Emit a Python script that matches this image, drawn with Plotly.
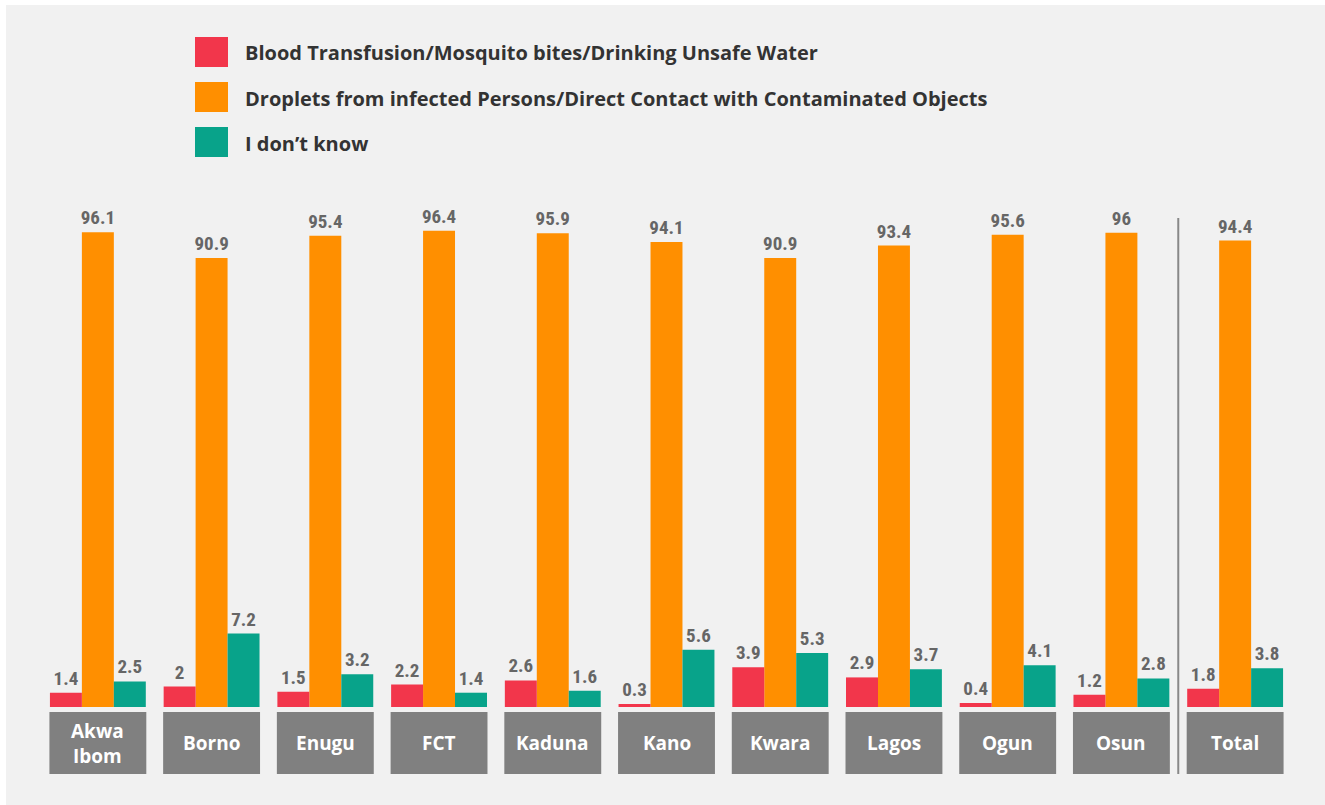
import plotly.graph_objects as go

states = ["Akwa Ibom", "Borno", "Enugu", "FCT", "Kaduna", "Kano", "Kwara", "Lagos", "Ogun", "Osun", "Total"]
state_labels = ["Akwa<br>Ibom", "Borno", "Enugu", "FCT", "Kaduna", "Kano", "Kwara", "Lagos", "Ogun", "Osun", "Total"]
series_names = [
    "Blood Transfusion/Mosquito bites/Drinking Unsafe Water",
    "Droplets from infected Persons/Direct Contact with Contaminated Objects",
    "I don\u2019t know",
]
blood = [1.4, 2, 1.5, 2.2, 2.6, 0.3, 3.9, 2.9, 0.4, 1.2, 1.8]
droplets = [96.1, 90.9, 95.4, 96.4, 95.9, 94.1, 90.9, 93.4, 95.6, 96, 94.4]
dont_know = [2.5, 7.2, 3.2, 1.4, 1.6, 5.6, 5.3, 3.7, 4.1, 2.8, 3.8]

colors = ["#f2364b", "#ff8f00", "#08a38a"]

W, H = 1325, 805
ML, MR, MT, MB = 41, 33, 207, 98
PW = W - ML - MR
PH = H - MT - MB


def px(xp):
    return (xp - ML) / PW


def py(yp):
    return (H - MB - yp) / PH


xs = list(range(len(states)))
bw = 0.281
label_font = dict(family="Roboto Condensed, Open Sans Condensed, DejaVu Sans Condensed, Liberation Sans Narrow, Roboto, sans-serif",
                  size=19, color="#666666", weight="bold")

fig = go.Figure()
specs = [(blood, "y2", -1.5 * bw), (droplets, "y", -0.5 * bw), (dont_know, "y2", 0.5 * bw)]
for i, (vals, yax, off) in enumerate(specs):
    fig.add_trace(go.Bar(
        x=xs, y=vals, name=series_names[i], yaxis=yax,
        width=bw, offset=off, marker=dict(color=colors[i], line=dict(width=0)),
        text=[("%g" % v) for v in vals], textposition="outside",
        textfont=label_font, constraintext="none", cliponaxis=False,
        showlegend=False, hoverinfo="x+y",
    ))

shapes = []
annotations = []
# background panel
shapes.append(dict(type="rect", xref="paper", yref="paper", x0=px(6), x1=px(W + 5), y0=py(5), y1=py(H + 5),
                   fillcolor="#f1f1f1", line=dict(width=0), layer="below"))
# category boxes
for i, lab in enumerate(state_labels):
    shapes.append(dict(type="rect", xref="x", yref="paper", x0=i - 0.426, x1=i + 0.426,
                       y0=py(774), y1=py(712), fillcolor="#808080", line=dict(width=0)))
    annotations.append(dict(x=i, y=py(743), xref="x", yref="paper", text="<b>%s</b>" % lab,
                            showarrow=False, font=dict(family="Open Sans, sans-serif", size=19, color="#ffffff"),
                            xanchor="center", yanchor="middle"))
# separator
shapes.append(dict(type="line", xref="x", yref="paper", x0=9.5, x1=9.5, y0=py(774), y1=py(218),
                   line=dict(color="#888888", width=2)))
# legend
leg_y = [52, 97, 142]
for i, name in enumerate(series_names):
    shapes.append(dict(type="rect", xref="paper", yref="paper", x0=px(195), x1=px(228),
                       y0=py(leg_y[i] + 15), y1=py(leg_y[i] - 15), fillcolor=colors[i], line=dict(width=0)))
    annotations.append(dict(x=px(243), y=py(leg_y[i] + 1), xref="paper", yref="paper", text="<b>%s</b>" % name,
                            showarrow=False, font=dict(family="Open Sans, sans-serif", size=20, color="#333333"),
                            xanchor="left", yanchor="middle"))

fig.update_layout(
    width=W, height=H,
    margin=dict(l=ML, r=MR, t=MT, b=MB, pad=0),
    paper_bgcolor="#ffffff", plot_bgcolor="rgba(0,0,0,0)",
    barmode="overlay",
    xaxis=dict(range=[-0.5, 10.5], visible=False, fixedrange=True),
    yaxis=dict(range=[0, 101.2], visible=False, fixedrange=True),
    yaxis2=dict(range=[0, 49], visible=False, overlaying="y", fixedrange=True),
    shapes=shapes, annotations=annotations,
    showlegend=False,
)

fig.write_html("out.html", config={"displayModeBar": False},
               post_script="document.body.style.margin='0px';document.body.style.overflow='hidden';")
